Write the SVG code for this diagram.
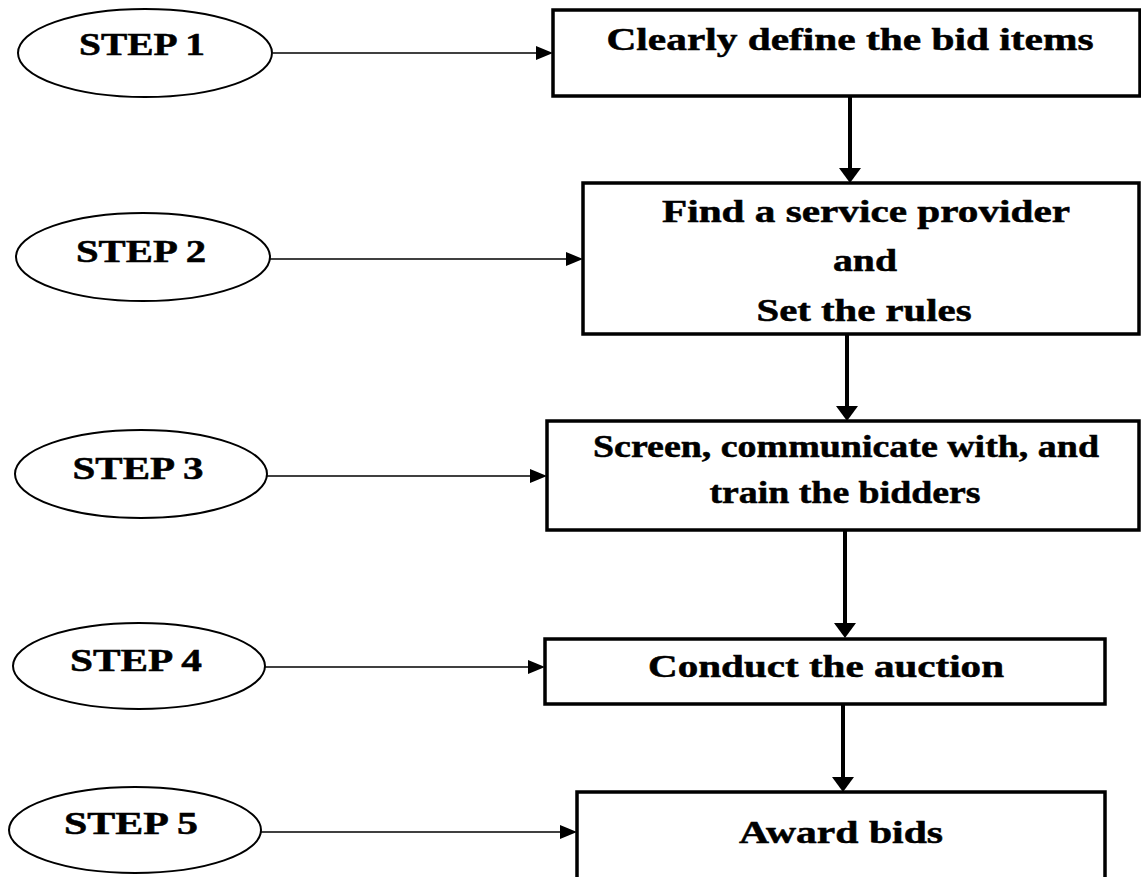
<svg xmlns="http://www.w3.org/2000/svg" width="1141" height="877" viewBox="0 0 1141 877">
<style>
  .ell { fill: #fff; stroke: #000; stroke-width: 2; }
  .box { fill: #fff; stroke: #000; stroke-width: 3.5; }
  .lbl { font-family: "Liberation Serif", "Times New Roman", serif; font-weight: bold; font-size: 31px; fill: #000; stroke: #000; stroke-width: 0.5; text-anchor: middle; }
  .thin { stroke: #000; stroke-width: 1.6; fill: none; marker-end: url(#ah); }
  .thick { stroke: #000; stroke-width: 4; fill: none; marker-end: url(#ahb); }
</style>
<defs>
  <marker id="ah" markerUnits="userSpaceOnUse" viewBox="0 0 17 14" markerWidth="17" markerHeight="14" refX="2" refY="7" orient="auto" overflow="visible">
    <path d="M0,0 L17,7 L0,14 z" fill="#000"/>
  </marker>
  <marker id="ahb" markerUnits="userSpaceOnUse" viewBox="0 0 15 22" markerWidth="15" markerHeight="22" refX="3" refY="11" orient="auto" overflow="visible">
    <path d="M0,0 L15,11 L0,22 z" fill="#000"/>
  </marker>
</defs>
<rect width="1141" height="877" fill="#fff"/>

<g id="connectors">
  <path class="thin" d="M273,53 L538,53"/>
  <path class="thin" d="M270,259 L568,259"/>
  <path class="thin" d="M267,476 L532,476"/>
  <path class="thin" d="M265,667 L530,667"/>
  <path class="thin" d="M261,832 L562,832"/>
  <path class="thick" d="M850,96 L850,171"/>
  <path class="thick" d="M847,334 L847,409"/>
  <path class="thick" d="M845,530 L845,626"/>
  <path class="thick" d="M843,704 L843,780"/>
</g>

<g id="step1">
  <ellipse class="ell" cx="145" cy="53" rx="127" ry="44"/>
  <text class="lbl" x="142" y="55" textLength="126" lengthAdjust="spacingAndGlyphs">STEP 1</text>
</g>
<g id="step2">
  <ellipse class="ell" cx="143" cy="257" rx="127" ry="44"/>
  <text class="lbl" x="141" y="262" textLength="130" lengthAdjust="spacingAndGlyphs">STEP 2</text>
</g>
<g id="step3">
  <ellipse class="ell" cx="141" cy="474" rx="126" ry="44"/>
  <text class="lbl" x="138" y="479" textLength="131" lengthAdjust="spacingAndGlyphs">STEP 3</text>
</g>
<g id="step4">
  <ellipse class="ell" cx="139" cy="666" rx="126" ry="43"/>
  <text class="lbl" x="136" y="671" textLength="132" lengthAdjust="spacingAndGlyphs">STEP 4</text>
</g>
<g id="step5">
  <ellipse class="ell" cx="135" cy="830" rx="126" ry="43"/>
  <text class="lbl" x="131" y="834" textLength="134" lengthAdjust="spacingAndGlyphs">STEP 5</text>
</g>

<g id="box1">
  <rect class="box" x="553" y="10" width="587" height="86"/>
  <text class="lbl" x="850" y="50" textLength="487" lengthAdjust="spacingAndGlyphs">Clearly define the bid items</text>
</g>
<g id="box2">
  <rect class="box" x="583" y="183" width="556" height="151"/>
  <text class="lbl" x="866" y="222" textLength="408" lengthAdjust="spacingAndGlyphs">Find a service provider</text>
  <text class="lbl" x="865" y="271" textLength="64" lengthAdjust="spacingAndGlyphs">and</text>
  <text class="lbl" x="864" y="321" textLength="215" lengthAdjust="spacingAndGlyphs">Set the rules</text>
</g>
<g id="box3">
  <rect class="box" x="547" y="421" width="592" height="109"/>
  <text class="lbl" x="846" y="457" textLength="506" lengthAdjust="spacingAndGlyphs">Screen, communicate with, and</text>
  <text class="lbl" x="845" y="503" textLength="271" lengthAdjust="spacingAndGlyphs">train the bidders</text>
</g>
<g id="box4">
  <rect class="box" x="545" y="639" width="560" height="65"/>
  <text class="lbl" x="826" y="677" textLength="356" lengthAdjust="spacingAndGlyphs">Conduct the auction</text>
</g>
<g id="box5">
  <rect class="box" x="577" y="792" width="528" height="95"/>
  <text class="lbl" x="841" y="843" textLength="204" lengthAdjust="spacingAndGlyphs">Award bids</text>
</g>
</svg>
